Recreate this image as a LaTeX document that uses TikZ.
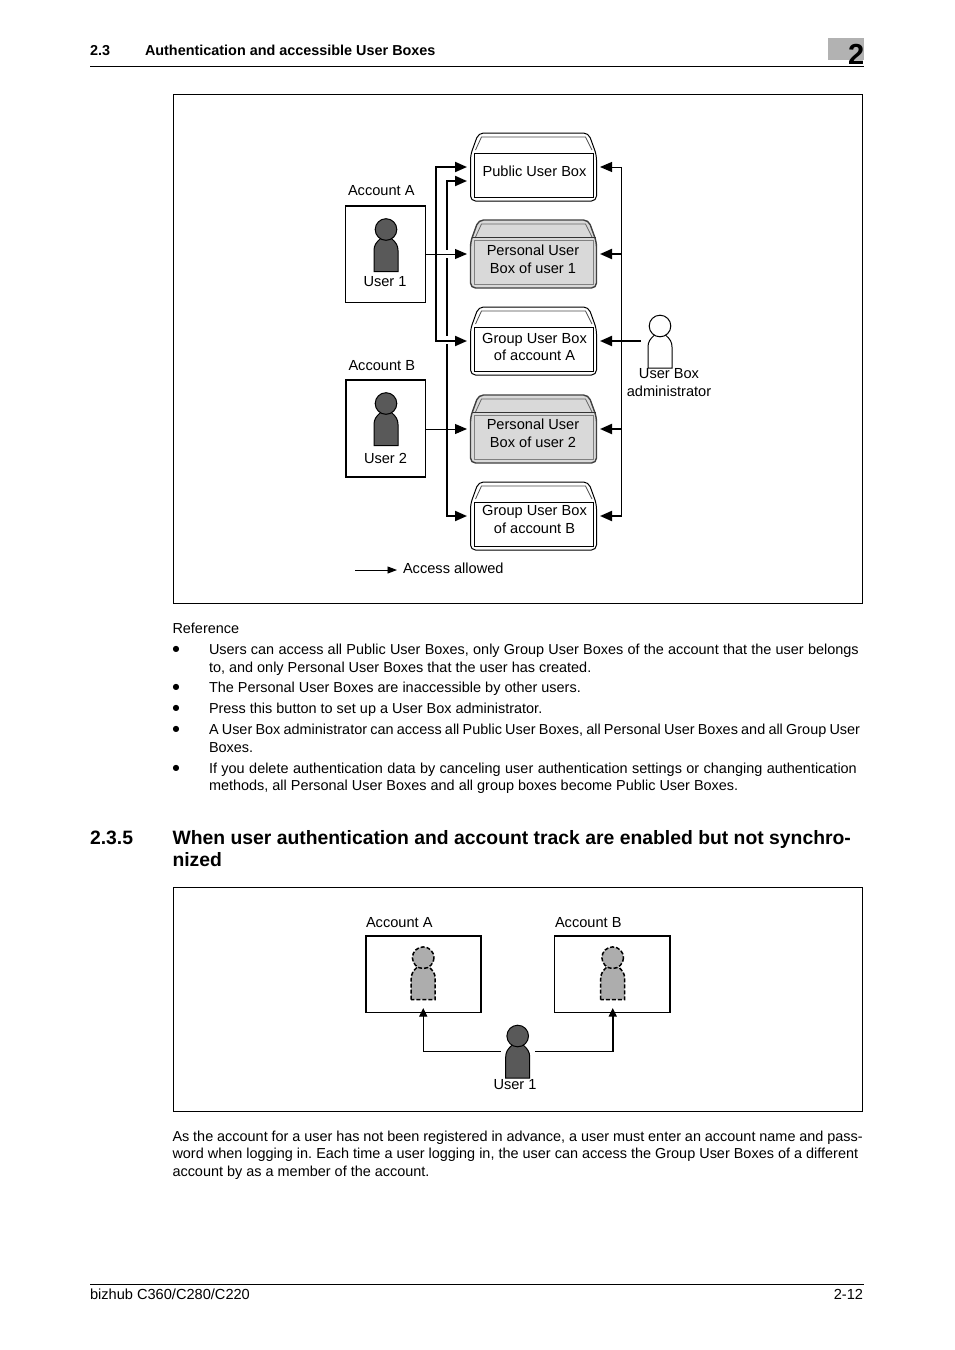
\documentclass[tikz,border=0pt]{standalone}
\usepackage{fontspec}
\setmainfont{Liberation Sans}
\newfontfamily\symbolfont{DejaVu Sans}
\usetikzlibrary{arrows.meta,positioning,calc}
\tikzset{
  txt/.style={inner sep=0pt,outer sep=0pt,font=\fontsize{14.6}{17.5}\selectfont,align=center},
  line/.style={txt,anchor=base west,font=\fontsize{14.45}{17.5}\selectfont},
  label/.style={txt,anchor=base west},
  boldline/.style={line,font=\bfseries\fontsize{14.4}{17.5}\selectfont},
  headline/.style={line,font=\bfseries\fontsize{19.35}{22}\selectfont},
  frame/.style={draw,line width=0.9pt},
  account/.style={draw,line width=1.6pt,fill=white},
  boxbody/.style={minimum width=126pt,minimum height=68pt,inner sep=0pt,outer sep=0pt},
  link/.style={line width=2pt,-{Triangle[length=12pt,width=10pt]},shorten >=3.5pt},
  linkthin/.style={link,line width=1pt},
  uplink/.style={line width=1pt,-{Triangle[length=8.5pt,width=8pt]}},
  personpic/.pic={
    \draw[pic actions] (-12,42) -- (-12,21) .. controls (-12,16) and (-10,13) .. (-5.5,9) -- (5.5,9)
      .. controls (10,13) and (12,16) .. (12,21) -- (12,42) -- cycle;
    \draw[pic actions] (0,0) circle (10.8);
  },
  plainlid/.pic={
    \draw[line width=1pt,rounded corners=5pt,fill=white] (-63,34) -- (-63,-12) -- (-55,-34) -- (55,-34) -- (63,-12) -- (63,34) -- cycle;
    \draw[line width=0.8pt,black!70] (-58,-17) -- (-52,-30) -- (52,-30) -- (58.5,-17);
    \draw[line width=1pt] (-59.5,-14) rectangle (60,30);
  },
  greylid/.pic={
    \draw[line width=1.4pt,black!75,rounded corners=5pt,fill=black!15] (-63,34) -- (-63,-12) -- (-55,-34) -- (55,-34) -- (63,-12) -- (63,34) -- cycle;
    \draw[line width=0.8pt,black!60] (-58,-17) -- (-52,-30) -- (52,-30) -- (58.5,-17);
    \draw[line width=0.8pt,black!80] (-62,-16.5) -- (62,-16.5);
    \draw[line width=1pt,black!50] (-59.5,-13.5) rectangle (60,30);
  },
}
\begin{document}
\frenchspacing
\begin{tikzpicture}[x=1pt,y=-1pt]
\useasboundingbox[fill=white] (0,0) rectangle (954,1350);

% page head
\fill[black!30] (828,38) rectangle (864,60);
\node[line,font=\bfseries\fontsize{29}{29}\selectfont] (chapter) at (848,64) {2};
\node[boldline] (secnum) at (90,55) {2.3};
\node[boldline] (sectitle) at (145,55) {Authentication and accessible User Boxes};
\draw[line width=0.8pt] (90,66) -- (864,66);

% upper frame
\draw[frame] (173,94.5) rectangle (862.5,603.5);

% accounts
\node[label] (accountAlabel) at (348,195) {Account A};
\node[label] (accountBlabel) at (348.5,370) {Account B};
\draw[account] (345.5,206) rectangle (425.5,302.5);
\draw[account] (346,380) rectangle (425.5,477);
\coordinate (accountAout) at (425.5,254);
\coordinate (accountBout) at (425.5,429);
\pic[draw=black,line width=1pt,fill=black!65,x=1pt,y=-1pt] at (386,229.5) {personpic};
\pic[draw=black,line width=1pt,fill=black!65,x=1pt,y=-1pt] at (386,403.5) {personpic};
\node[txt] (userone) at (385,282) {User 1};
\node[txt] (usertwo) at (385.5,458.5) {User 2};

% user boxes
\node[boxbody] (publicbox) at (533.5,167) {};
\node[boxbody] (personalone) at (533.5,254) {};
\node[boxbody] (groupA) at (533.5,341) {};
\node[boxbody] (personaltwo) at (533.5,429) {};
\node[boxbody] (groupB) at (533.5,516) {};
\pic[x=1pt,y=-1pt] at (publicbox) {plainlid};
\pic[x=1pt,y=-1pt] at (personalone) {greylid};
\pic[x=1pt,y=-1pt] at (groupA) {plainlid};
\pic[x=1pt,y=-1pt] at (personaltwo) {greylid};
\pic[x=1pt,y=-1pt] at (groupB) {plainlid};
\node[txt] (publictext) at (534.5,171) {Public User Box};
\node[txt] (personalonetext) at (533,259.5) {Personal User\\Box of user 1};
\node[txt] (groupAtext) at (534.5,347) {Group User Box\\of account A};
\node[txt] (personaltwotext) at (533,433.5) {Personal User\\Box of user 2};
\node[txt] (groupBtext) at (534.5,519.5) {Group User Box\\of account B};

% links of account B
\coordinate (forkB) at (446.5,429);
\draw[link] (forkB) |- ([yshift=-14pt]publicbox.west);
\draw[link] (forkB) |- (groupB.west);
\draw[linkthin] (accountBout) -- (personaltwo.west);
% gaps where account A crosses
\draw[white,line width=3.5pt] (446.5,250) -- (446.5,258) (446.5,336) -- (446.5,344);
% links of account A
\coordinate (forkA) at (436,254);
\draw[link] (forkA) |- (publicbox.west);
\draw[link] (forkA) |- (groupA.west);
\draw[linkthin] (accountAout) -- (personalone.west);

% administrator
\pic[draw=black,line width=1pt,fill=white,x=1pt,y=-1pt] at (660,326) {personpic};
\node[txt] (admintext) at (669,382.5) {User Box\\administrator};
\coordinate (adminout) at (641,341);
\coordinate (adminrail) at (621.5,341);
\draw[line width=1pt] (adminrail |- publicbox.east) -- (adminrail |- groupB.east);
\draw[linkthin] (adminrail |- publicbox.east) -- (publicbox.east);
\draw[link] (adminrail |- personalone.east) -- (personalone.east);
\draw[link] (adminout) -- (groupA.east);
\draw[link] (adminrail |- personaltwo.east) -- (personaltwo.east);
\draw[link] (adminrail |- groupB.east) -- (groupB.east);

% legend
\coordinate (legendstart) at (355,570);
\coordinate (legendend) at (397,570);
\node[label] (legendtext) at (403,573) {Access allowed};
\draw[line width=0.9pt,-{Triangle[length=9.5pt,width=7pt]}] (legendstart) -- (legendend);

% body text
\foreach \ly/\lx/\lt [count=\n] in {
  {633/172.5/Reference},
  {654/209/\spaceskip=4.25pt Users can access all Public User Boxes, only Group User Boxes of the account that the user belongs},
  {672/209/to, and only Personal User Boxes that the user has created.},
  {692/209/The Personal User Boxes are inaccessible by other users.},
  {713/209/Press this button to set up a User Box administrator.},
  {734/209/\spaceskip=3.2pt A User Box administrator can access all Public User Boxes, all Personal User Boxes and all Group User},
  {752/209/Boxes.},
  {773/209/\spaceskip=4.45pt If you delete authentication data by canceling user authentication settings or changing authentication},
  {790/209/methods, all Personal User Boxes and all group boxes become Public User Boxes.},
  {1141/172.5/\spaceskip=3.87pt As the account for a user has not been registered in advance, a user must enter an account name and pass-},
  {1158/172.5/word when logging in. Each time a user logging in, the user can access the Group User Boxes of a different},
  {1176/172.5/account by as a member of the account.}}
  \node[line] (bodyline\n) at (\lx,\ly) {\lt};
\foreach \ly [count=\n] in {651,689,710,731,770}
  \node[line,font=\symbolfont\fontsize{8}{8}\selectfont] (bullet\n) at (172.5,\ly) {●};

% section heading
\node[headline] (headnum) at (90,844) {2.3.5};
\node[headline] (headone) at (172.5,844) {When user authentication and account track are enabled but not synchro-};
\node[headline] (headtwo) at (172.5,866.5) {nized};

% lower frame
\draw[frame] (173,887.5) rectangle (862.5,1111.5);
\node[label] (lowerAlabel) at (366,927) {Account A};
\node[label] (lowerBlabel) at (555,927) {Account B};
\node[account,line width=1.5pt,minimum width=115pt,minimum height=76.5pt,inner sep=0pt] (lowerA) at (423.25,974) {};
\node[account,line width=1.5pt,minimum width=115.5pt,minimum height=76.5pt,inner sep=0pt] (lowerB) at (612.25,974) {};
\pic[draw=black,line width=1.5pt,dash pattern=on 4pt off 2pt,fill=black!32,x=1pt,y=-1pt] at (423.2,957.7) {personpic};
\pic[draw=black,line width=1.5pt,dash pattern=on 4pt off 2pt,fill=black!32,x=1pt,y=-1pt] at (612.7,957.7) {personpic};
\pic[draw=black,line width=1pt,fill=black!65,x=1pt,y=-1pt] at (517.7,1036) {personpic};
\node[txt] (loweruser) at (515,1085) {User 1};
\coordinate (lowerleft) at (500.5,1051.5);
\coordinate (lowerright) at (535,1051.5);
\draw[uplink] (lowerleft) -| ([yshift=5pt]lowerA.south);
\draw[uplink,line width=1.6pt] (lowerright) -| ([xshift=0.5pt,yshift=5pt]lowerB.south);

% page foot
\draw[line width=0.8pt] (90,1284) -- (864,1284);
\node[label] (footleft) at (90,1299) {bizhub C360/C280/C220};
\node[label,anchor=base east] (footright) at (863,1299) {2-12};
\end{tikzpicture}
\end{document}
